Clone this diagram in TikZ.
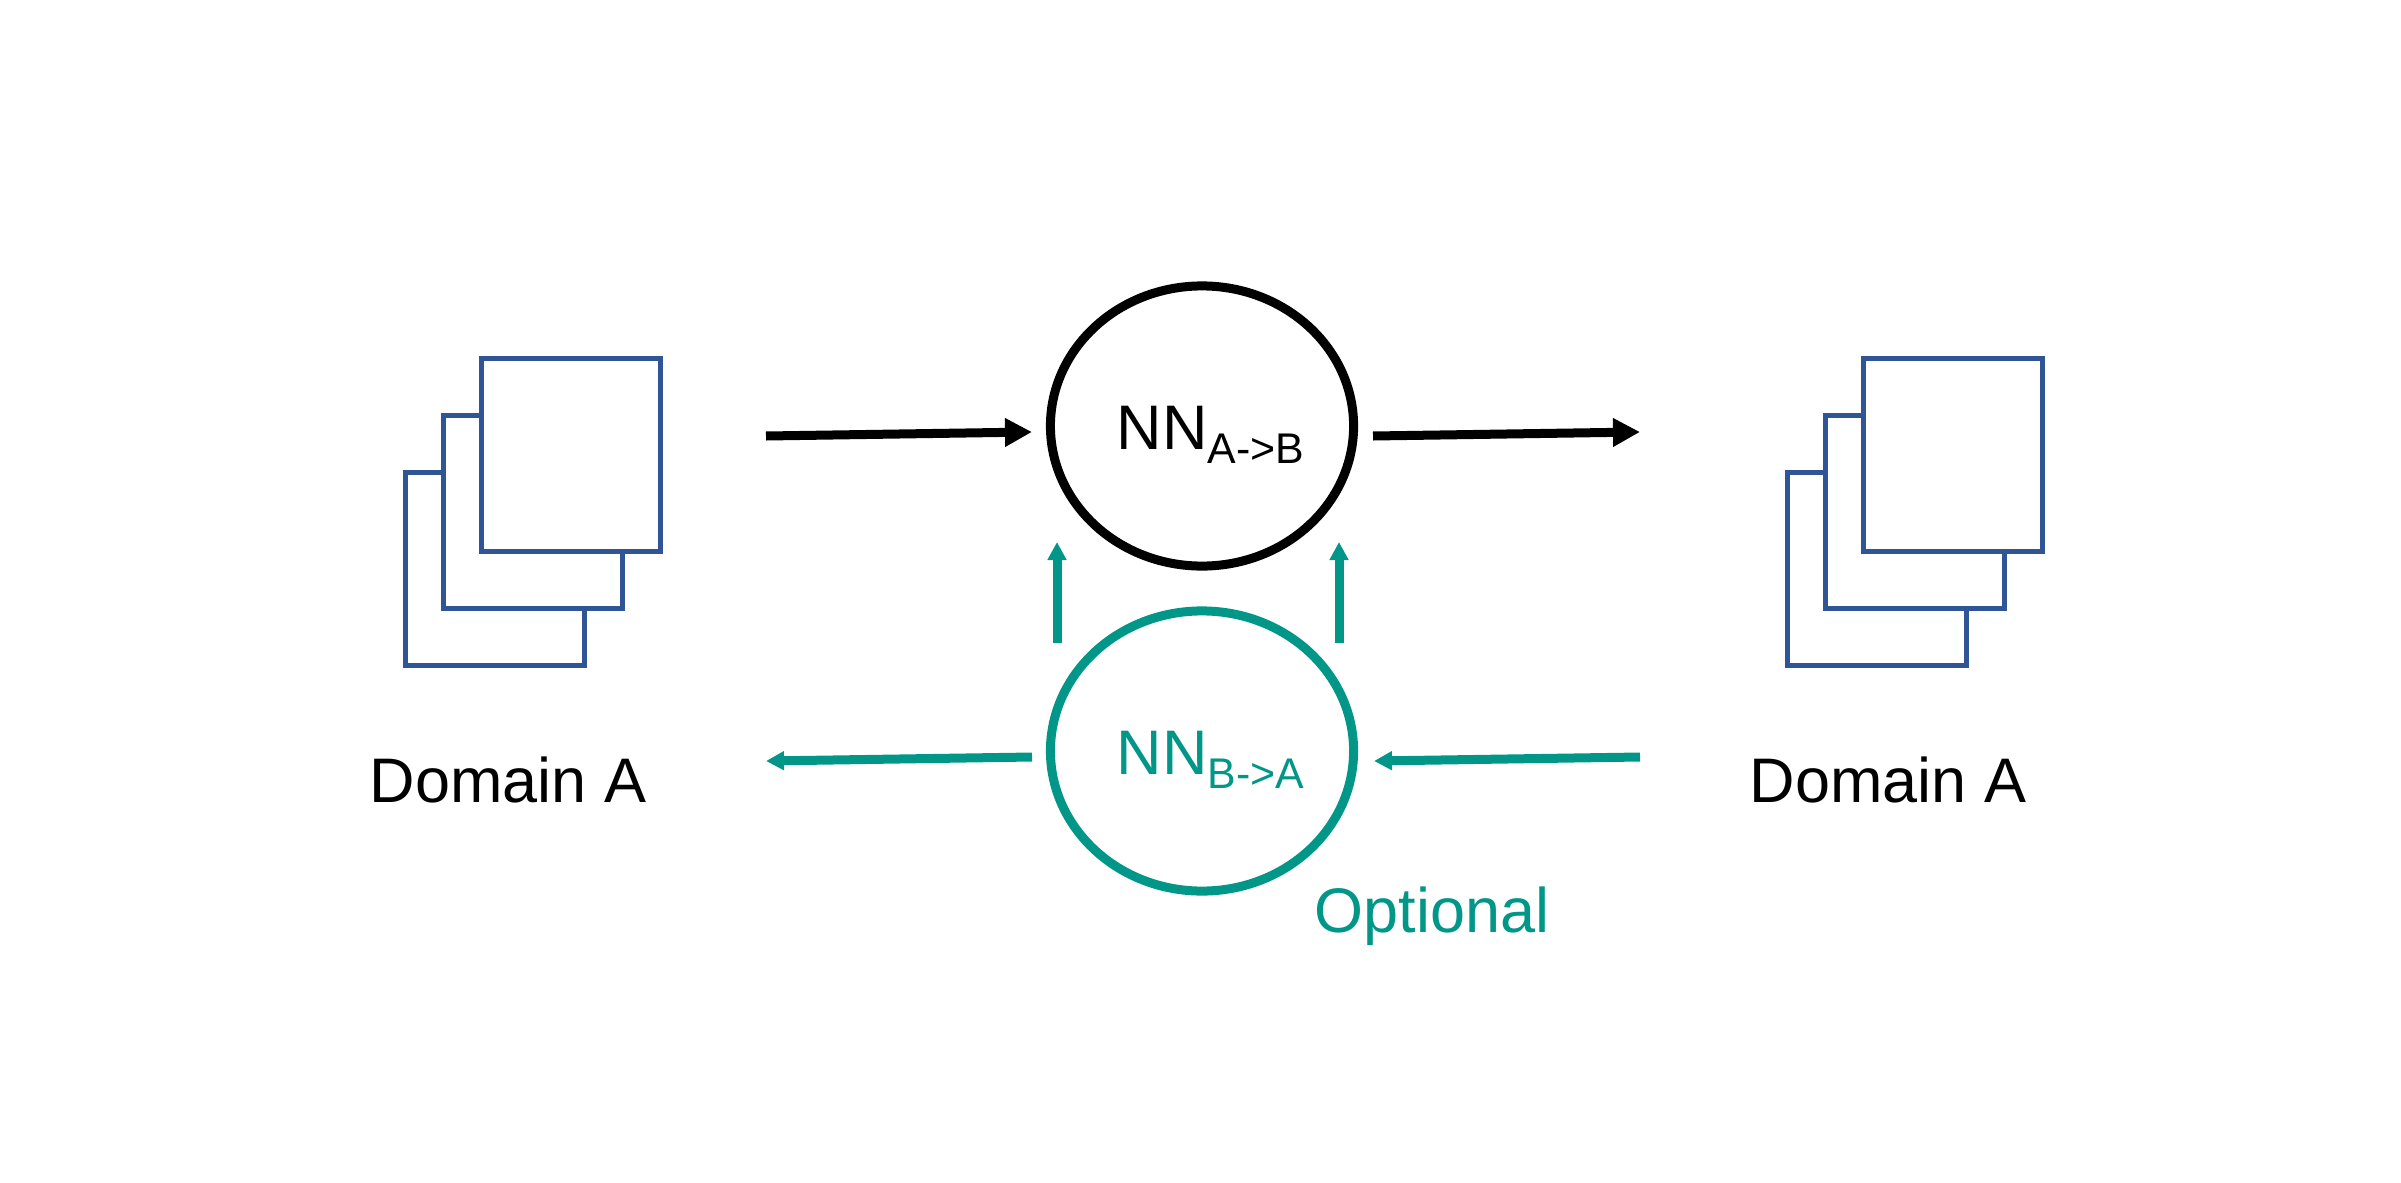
\documentclass[tikz,border=0pt]{standalone}
\usepackage{fontspec}
\setmainfont{Liberation Sans}
\usetikzlibrary{calc, shapes.geometric, arrows.meta}
\definecolor{pageblue}{HTML}{2F5597}
\definecolor{optteal}{HTML}{009688}
\newcommand{\labelfont}{\fontsize{17.9}{20}\selectfont}
\newcommand{\subfont}{\fontsize{12.2}{14}\selectfont}

\begin{document}
\begin{tikzpicture}[
    x=0.01cm, y=-0.01cm,
    page/.style={rectangle, draw=pageblue, fill=white, line width=0.05cm, minimum width=1.78cm, minimum height=1.93cm, inner sep=0},
    network/.style={ellipse, line width=0.09cm, minimum width=3.03cm, minimum height=2.80cm, inner sep=0},
    label/.style={anchor=base west, inner sep=0, font=\labelfont},
    arrow/.style={line width=0.09cm, -{Triangle[length=0.27cm, width=0.27cm]}},
    optarrow/.style={line width=0.09cm, draw=optteal, -{Triangle[length=0.18cm, width=0.18cm]}}
]
\useasboundingbox (0,0) rectangle (2401,1182);

% Left stack of pages
\node (backA) [page] at (495,569) {};
\node (midA) [page] at ($(backA)+(38,-57)$) {};
\node (frontA) [page] at ($(midA)+(38,-57)$) {};

% Right stack of pages
\node (backB) [page] at ($(backA)+(1382,0)$) {};
\node (midB) [page] at ($(backB)+(38,-57)$) {};
\node (frontB) [page] at ($(midB)+(38,-57)$) {};

% Domain labels
\node (domainL) [label] at (369,802) {Domain A};
\node (domainR) [label] at (1749,802) {Domain A};

% Networks
\node (forward) [network, draw=black] at (1202,426) {};
\node (backward) [network, draw=optteal] at (1202,751) {};
\node (forwardtxt) [label] at (1116,449) {NN\raisebox{-0.14cm}{\subfont A->B}};
\node (backwardtxt) [label, text=optteal] at (1116,774) {NN\raisebox{-0.14cm}{\subfont B->A}};
\node (optional) [label, text=optteal] at (1314,932) {Optional};

% Free ends of the connectors
\coordinate (inL) at (766,436);
\coordinate (inR) at (1032,432);
\coordinate (outL) at (1373,436);
\coordinate (outR) at (1640,432);
\coordinate (backinR) at (1640,757);
\coordinate (backinL) at (1374,761);
\coordinate (backoutR) at (1032,757);
\coordinate (backoutL) at (766,761);
\coordinate (upLs) at (1057,643);
\coordinate (upLe) at (1057,542);
\coordinate (upRs) at (1339,643);
\coordinate (upRe) at (1339,542);

% Main path
\draw [arrow] (inL) -- (inR);
\draw [arrow] (outL) -- (outR);

% Optional path
\draw [optarrow] (backinR) -- (backinL);
\draw [optarrow] (backoutR) -- (backoutL);
\draw [optarrow] (upLs) -- (upLe);
\draw [optarrow] (upRs) -- (upRe);

\end{tikzpicture}
\end{document}
